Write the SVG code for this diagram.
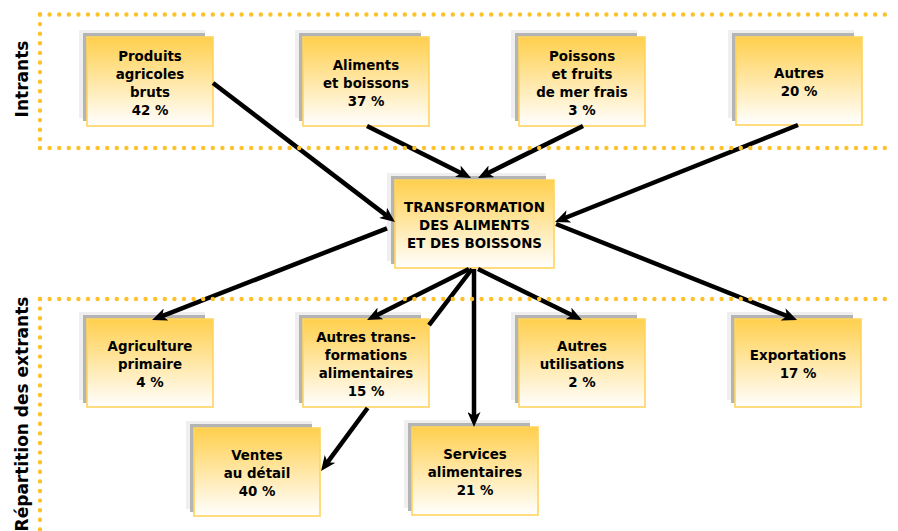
<svg xmlns="http://www.w3.org/2000/svg" width="898" height="531" viewBox="0 0 898 531">
<defs>
<linearGradient id="g" x1="0" y1="0" x2="0" y2="1">
<stop offset="0" stop-color="#ffcf4d"/>
<stop offset="1" stop-color="#ffffff"/>
</linearGradient>
<marker id="ah" markerUnits="userSpaceOnUse" viewBox="0 0 15 13" markerWidth="15" markerHeight="13" refX="7" refY="6.5" orient="auto">
<path d="M0,0 L15,6.5 L0,13 L4,6.5 Z" fill="#000"/>
</marker>
</defs>
<style>
.l1{fill:#efefef}
.l2{fill:#b4b4b4}
.bx{fill:url(#g);stroke:#ffd55e;stroke-width:1.6}
.t{font-family:"DejaVu Sans",Verdana,sans-serif;font-weight:bold;font-size:13.4px;text-anchor:middle;fill:#000}
.side{font-family:"DejaVu Sans",Verdana,sans-serif;font-weight:bold;font-size:17px;text-anchor:middle;fill:#000}
.dot{fill:none;stroke:#fdc22a;stroke-width:4.4;stroke-linecap:round;stroke-dasharray:0 9.6}
.c{fill:none;stroke:#000;stroke-width:4.5;marker-end:url(#ah)}
</style>
<rect width="898" height="531" fill="#fff"/>

<g id="n-produits">
<rect class="l1" x="79" y="30" width="126" height="88"/>
<rect class="l2" x="83" y="33" width="122" height="88"/>
<rect class="bx" x="87" y="37" width="126" height="89"/>
<text class="t"><tspan x="150" y="60.5">Produits</tspan><tspan x="150" y="78.5">agricoles</tspan><tspan x="150" y="96.5">bruts</tspan><tspan x="150" y="114.5">42 %</tspan></text>
</g>

<g id="n-aliments">
<rect class="l1" x="295" y="30" width="126" height="88"/>
<rect class="l2" x="299" y="33" width="122" height="88"/>
<rect class="bx" x="303" y="37" width="126" height="89"/>
<text class="t"><tspan x="366" y="69.5">Aliments</tspan><tspan x="366" y="87.5">et boissons</tspan><tspan x="366" y="105.5">37 %</tspan></text>
</g>

<g id="n-poissons">
<rect class="l1" x="511" y="30" width="126" height="88"/>
<rect class="l2" x="515" y="33" width="122" height="88"/>
<rect class="bx" x="519" y="37" width="126" height="89"/>
<text class="t"><tspan x="582" y="60.5">Poissons</tspan><tspan x="582" y="78.5">et fruits</tspan><tspan x="582" y="96.5">de mer frais</tspan><tspan x="582" y="114.5">3 %</tspan></text>
</g>

<g id="n-autres-in">
<rect class="l1" x="728" y="30" width="126" height="88"/>
<rect class="l2" x="732" y="33" width="122" height="88"/>
<rect class="bx" x="736" y="37" width="126" height="88"/>
<text class="t"><tspan x="799" y="78">Autres</tspan><tspan x="799" y="96">20 %</tspan></text>
</g>

<g id="n-transformation">
<rect class="l1" x="387" y="173" width="159" height="88"/>
<rect class="l2" x="391" y="176" width="155" height="88"/>
<rect class="bx" x="395" y="180" width="159" height="88"/>
<text class="t"><tspan x="474.5" y="212">TRANSFORMATION</tspan><tspan x="474.5" y="230">DES ALIMENTS</tspan><tspan x="474.5" y="248">ET DES BOISSONS</tspan></text>
</g>

<g id="n-agriculture">
<rect class="l1" x="79" y="312" width="126" height="88"/>
<rect class="l2" x="83" y="315" width="122" height="88"/>
<rect class="bx" x="87" y="319" width="126" height="88"/>
<text class="t"><tspan x="150" y="351">Agriculture</tspan><tspan x="150" y="369">primaire</tspan><tspan x="150" y="387">4 %</tspan></text>
</g>

<g id="n-autres-transf">
<rect class="l1" x="295" y="312" width="126" height="88"/>
<rect class="l2" x="299" y="315" width="122" height="88"/>
<rect class="bx" x="303" y="319" width="126" height="88"/>
<text class="t"><tspan x="366" y="342">Autres trans-</tspan><tspan x="366" y="360">formations</tspan><tspan x="366" y="378">alimentaires</tspan><tspan x="366" y="396">15 %</tspan></text>
</g>

<g id="n-autres-util">
<rect class="l1" x="511" y="312" width="126" height="88"/>
<rect class="l2" x="515" y="315" width="122" height="88"/>
<rect class="bx" x="519" y="319" width="126" height="88"/>
<text class="t"><tspan x="582" y="351">Autres</tspan><tspan x="582" y="369">utilisations</tspan><tspan x="582" y="387">2 %</tspan></text>
</g>

<g id="n-exportations">
<rect class="l1" x="727" y="312" width="126" height="88"/>
<rect class="l2" x="731" y="315" width="122" height="88"/>
<rect class="bx" x="735" y="319" width="126" height="88"/>
<text class="t"><tspan x="798" y="360">Exportations</tspan><tspan x="798" y="378">17 %</tspan></text>
</g>

<g id="n-ventes">
<rect class="l1" x="186" y="421" width="126" height="88"/>
<rect class="l2" x="190" y="424" width="122" height="88"/>
<rect class="bx" x="194" y="428" width="126" height="88"/>
<text class="t"><tspan x="257" y="460">Ventes</tspan><tspan x="257" y="478">au détail</tspan><tspan x="257" y="496">40 %</tspan></text>
</g>

<g id="n-services">
<rect class="l1" x="404" y="420" width="126" height="88"/>
<rect class="l2" x="408" y="423" width="122" height="88"/>
<rect class="bx" x="412" y="427" width="126" height="88"/>
<text class="t"><tspan x="475" y="459">Services</tspan><tspan x="475" y="477">alimentaires</tspan><tspan x="475" y="495">21 %</tspan></text>
</g>

<g id="connectors">
<line class="c" x1="213" y1="83" x2="388.6" y2="217.1"/>
<line class="c" x1="367" y1="126" x2="463.9" y2="174.4"/>
<line class="c" x1="583" y1="126" x2="485.2" y2="174.4"/>
<line class="c" x1="798" y1="125" x2="562.4" y2="219"/>
<line class="c" x1="387" y1="228.3" x2="159.5" y2="317.1"/>
<line class="c" x1="556" y1="224" x2="789.6" y2="317"/>
<line class="c" x1="469" y1="269" x2="374.2" y2="316.5"/>
<path class="c" d="M472,269 L429,325.2 M367.6,408 L325.8,464.6"/>
<line class="c" x1="474" y1="269" x2="474" y2="419"/>
<line class="c" x1="478" y1="269" x2="574.8" y2="316.5"/>
</g>

<g id="regions">
<line class="dot" x1="40" y1="14.5" x2="893" y2="14.5"/>
<line class="dot" x1="40" y1="14.5" x2="40" y2="148"/>
<line class="dot" x1="40" y1="148" x2="893" y2="148"/>
<line class="dot" x1="40" y1="299" x2="893" y2="299"/>
<line class="dot" x1="40" y1="299" x2="40" y2="531"/>
<text class="side" transform="translate(28,79) rotate(-90)">Intrants</text>
<text class="side" transform="translate(28,414) rotate(-90)">Répartition des extrants</text>
</g>
</svg>
